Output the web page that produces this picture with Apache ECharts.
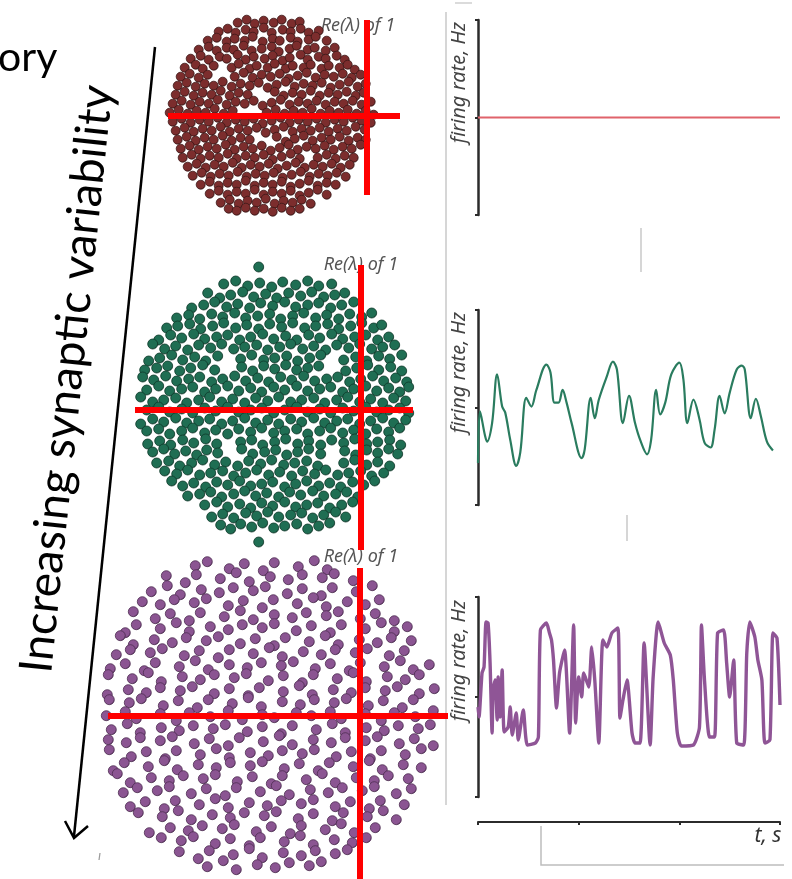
<!DOCTYPE html>
<html><head><meta charset="utf-8">
<script src="https://cdn.jsdelivr.net/npm/echarts@6/dist/echarts.min.js"></script>
<style>html,body{margin:0;padding:0;background:#fff}#c{width:792px;height:879px}</style>
</head><body><div id="c"></div>
<script>
// Eigenvalue clouds: flat pairs [Re*100, Im*100, ...] (red cross marks Re = 1, Im = 0)
const eigLow = [
-29,93,-20,96,-12,92,-3,95,7,93,15,96,25,92,33,94,
-48,84,-39,87,-31,83,-21,86,-13,84,-3,88,5,83,16,86,24,84,34,87,42,83,52,85,
-59,75,-50,78,-40,74,-32,77,-22,75,-14,79,-4,74,6,77,13,75,24,78,31,74,42,76,49,79,60,75,
-68,66,-58,69,-50,65,-40,68,-33,66,-23,70,-15,65,-5,67,5,69,12,64,23,67,30,70,41,66,48,68,59,65,68,68,
-76,57,-66,60,-58,56,-47,59,-40,57,-29,61,-21,56,-13,59,-2,57,6,60,16,55,23,58,34,61,41,56,52,59,59,57,70,60,78,56,
-82,48,-71,51,-64,47,-53,50,-35,48,-28,52,-17,47,-10,50,1,48,8,52,19,47,26,50,37,48,44,51,55,47,62,50,73,48,81,51,88,46,
-86,39,-77,42,-68,38,-59,41,-32,39,-23,43,-14,38,-5,41,4,39,13,42,22,37,31,40,40,43,49,38,58,41,67,39,76,42,85,38,94,41,
-89,30,-80,33,-71,29,-62,32,-53,30,-44,34,-35,29,-26,32,-17,30,-8,33,1,28,10,31,19,34,28,29,37,32,46,30,55,33,64,28,73,31,82,34,91,29,99,32,
-91,21,-82,24,-73,20,-64,23,-55,21,-46,25,-37,20,-28,23,-19,21,8,24,17,20,26,23,35,21,44,25,53,20,62,23,71,21,80,24,89,20,97,23,
-94,12,-85,15,-76,11,-67,14,-58,12,-49,16,-40,11,-31,14,-22,12,-13,15,-4,10,5,13,14,16,23,11,32,14,41,12,50,15,59,11,68,14,77,12,86,15,95,11,104,14,
-97,3,-88,6,-79,2,-70,5,-61,3,-52,7,-43,2,-34,5,0,3,9,6,18,2,27,5,36,3,45,7,54,2,63,5,72,3,81,6,90,2,99,5,107,1,
-94,-6,-85,-3,-76,-7,-67,-4,-58,-6,-49,-2,-40,-7,-31,-4,-22,-6,-13,-3,-4,-8,5,-5,14,-2,23,-7,32,-4,41,-6,50,-3,59,-7,68,-4,77,-6,86,-2,95,-5,104,-7,
-91,-15,-82,-12,-73,-16,-64,-13,-55,-15,-46,-11,-37,-16,-28,-13,-19,-15,-10,-12,-1,-17,8,-14,17,-11,26,-16,35,-13,44,-15,53,-12,62,-16,71,-13,80,-15,89,-11,98,-14,
-89,-24,-80,-21,-71,-25,-62,-22,-53,-24,-44,-20,-35,-25,-26,-22,-17,-24,10,-21,19,-26,28,-23,37,-20,46,-25,55,-22,64,-24,73,-21,82,-25,91,-22,99,-24,
-86,-33,-77,-30,-68,-34,-59,-31,-50,-33,-41,-29,-32,-34,-23,-31,-14,-33,-5,-30,4,-35,13,-32,22,-29,31,-34,40,-31,49,-33,58,-30,67,-34,76,-31,85,-33,94,-29,
-84,-42,-75,-39,-66,-43,-57,-40,-48,-42,-39,-38,-30,-43,-21,-40,-12,-42,-3,-39,6,-44,15,-41,24,-38,33,-43,51,-42,60,-39,69,-43,78,-40,87,-42,
-79,-51,-70,-48,-61,-52,-52,-49,-43,-51,-34,-47,-25,-52,-16,-49,-7,-51,2,-48,11,-53,20,-50,29,-47,38,-52,47,-49,56,-51,65,-48,74,-52,83,-49,
-74,-60,-65,-57,-56,-61,-47,-58,-38,-60,-29,-56,-20,-61,-11,-58,-2,-60,7,-57,16,-62,25,-59,34,-56,43,-61,52,-58,61,-60,70,-57,79,-61,
-66,-69,-57,-66,-48,-70,-39,-67,-30,-69,-21,-65,-12,-70,-3,-67,6,-69,15,-66,24,-71,33,-68,42,-65,51,-70,60,-67,69,-69,
-57,-78,-48,-75,-39,-79,-30,-76,-21,-78,-12,-74,-3,-79,6,-76,15,-78,24,-75,33,-80,42,-77,51,-74,60,-79,
-46,-87,-37,-84,-28,-88,-19,-85,-10,-87,-1,-83,8,-88,17,-85,26,-87,35,-84,44,-88,
-38,-93,-30,-95,-21,-92,-12,-95,-3,-93,6,-96,15,-92,24,-95,33,-93
];
const eigMid = [
-2,143,
-37,126,-25,129,-13,124,-1,127,11,123,22,128,35,125,47,129,58,124,71,126,
-53,117,-41,112,-30,115,-18,118,-7,113,5,116,16,112,28,117,40,114,51,118,63,113,74,115,84,117,
-69,102,-57,105,-46,108,-34,103,-23,106,-11,102,0,107,12,104,24,108,35,103,47,105,58,107,70,102,81,105,93,108,
-84,92,-72,95,-61,91,-49,96,-38,93,-26,97,-15,92,-3,94,9,96,20,91,32,94,43,97,55,92,66,95,78,91,89,96,101,93,111,97,
-94,82,-83,84,-71,86,-60,81,-48,84,-37,87,-25,82,-14,85,-2,81,9,86,21,83,32,87,44,82,55,84,67,86,78,81,90,84,101,87,113,82,121,85,
-102,70,-90,75,-79,72,-67,76,-56,71,-44,73,-33,75,-21,70,-10,73,2,76,13,71,25,74,36,70,48,75,59,72,71,76,82,71,94,73,105,75,117,70,128,73,
-108,66,-96,61,-85,64,-73,60,-62,65,-50,62,-39,66,-27,61,-16,63,-4,65,7,60,19,63,30,66,42,61,53,64,65,60,76,65,88,62,99,66,111,61,122,63,134,65,
-112,49,-101,52,-89,55,-78,50,-66,53,-55,49,-43,54,-20,51,-9,55,3,50,14,52,26,54,37,49,49,52,60,55,83,50,95,53,106,49,118,54,129,51,141,55,
-116,40,-104,42,-93,44,-81,39,-70,42,-58,45,-46,40,-19,43,-8,39,3,44,14,41,25,45,36,40,47,42,58,44,85,39,96,42,107,45,118,40,130,43,141,39,
-118,33,-107,30,-95,34,-84,29,-72,31,-61,33,-49,28,-38,31,-26,34,-15,29,-3,32,8,28,20,33,31,30,43,34,54,29,66,31,77,33,89,28,100,31,112,34,123,29,135,32,146,28,
-114,20,-102,24,-91,19,-79,21,-68,23,-56,18,-45,21,-33,24,-22,19,-10,22,1,18,13,23,24,20,36,24,47,19,59,21,70,23,82,18,93,21,105,24,116,19,128,22,139,18,148,23,
-120,13,-108,8,-97,10,-85,12,-74,7,-62,10,-51,13,-39,8,-28,11,-16,7,-5,12,7,9,18,13,30,8,41,10,53,12,64,7,76,10,87,13,99,8,110,11,122,7,133,12,145,9,
-114,0,-102,3,-91,-2,-79,1,-68,-3,-56,2,-45,-1,-33,3,-22,-2,-10,0,1,2,13,-3,24,0,36,3,47,-2,59,1,70,-3,82,2,93,-1,105,3,116,-2,128,0,139,2,148,-3,
-120,-14,-108,-9,-97,-12,-85,-8,-74,-13,-62,-11,-51,-9,-39,-14,-28,-11,-16,-8,-5,-13,7,-10,18,-14,30,-9,41,-12,53,-8,64,-13,76,-11,87,-9,99,-14,110,-11,122,-8,133,-13,145,-10,
-114,-21,-102,-19,-91,-24,-79,-21,-68,-18,-56,-23,-45,-20,-33,-24,-22,-19,-10,-22,1,-18,13,-23,24,-21,36,-19,47,-24,59,-21,70,-18,82,-23,93,-20,105,-24,116,-19,128,-22,139,-18,
-113,-34,-101,-31,-90,-35,-78,-30,-67,-33,-55,-29,-44,-34,-20,-32,-9,-30,2,-35,14,-32,25,-29,37,-34,48,-31,60,-35,71,-30,83,-33,94,-29,106,-34,117,-32,129,-30,140,-35,
-108,-42,-97,-39,-86,-44,-75,-41,-64,-45,-54,-40,-43,-43,-19,-39,-8,-44,4,-42,15,-40,26,-45,37,-42,48,-39,60,-44,84,-41,95,-45,106,-40,117,-43,128,-39,137,-44,
-104,-53,-92,-51,-81,-56,-69,-53,-58,-50,-46,-55,-35,-52,-23,-56,-12,-51,0,-54,11,-50,23,-55,34,-53,46,-51,57,-56,83,-53,94,-50,106,-55,117,-52,129,-56,
-96,-61,-84,-64,-73,-60,-61,-65,-50,-63,-38,-61,-27,-66,-15,-63,-4,-60,8,-65,19,-62,31,-66,42,-61,54,-64,65,-60,77,-65,88,-63,100,-61,111,-66,123,-63,
-89,-71,-78,-76,-67,-73,-55,-77,-44,-72,-33,-75,-21,-71,-10,-76,1,-74,12,-72,24,-77,35,-74,46,-71,58,-76,69,-73,80,-77,92,-72,103,-75,114,-71,
-73,-86,-61,-84,-50,-82,-39,-87,-27,-84,-16,-81,-5,-86,6,-83,18,-87,29,-82,40,-85,52,-81,63,-86,75,-84,86,-82,97,-87,
-56,-95,-44,-92,-33,-97,-21,-94,-10,-98,1,-93,12,-96,24,-92,35,-97,46,-95,57,-93,69,-98,81,-95,92,-92,
-49,-107,-38,-104,-27,-108,-15,-103,-4,-106,7,-102,18,-107,30,-105,41,-103,52,-108,63,-105,75,-102,85,-107,
-40,-115,-30,-119,-20,-114,-9,-117,2,-113,13,-118,24,-116,36,-114,47,-119,58,-116,69,-113,
-2,-132
];
const eigHigh = [
-64,150,-52,154,-30,147,-15,152,4,145,15,153,39,149,55,155,68,146,
-93,140,-74,133,-63,141,-39,137,-23,143,-10,134,11,139,29,136,43,141,63,138,75,142,94,135,
-108,124,-92,130,-79,121,-58,126,-40,123,-26,128,-6,125,6,129,28,122,43,127,62,120,73,128,97,124,113,130,
-117,114,-99,111,-85,116,-65,113,-53,117,-31,110,-16,115,3,108,14,116,38,112,54,118,67,109,88,114,106,111,120,116,
-126,104,-104,97,-89,102,-70,95,-59,103,-35,99,-19,105,-6,96,15,101,33,98,47,103,67,100,79,104,101,97,116,102,135,95,
-134,83,-123,91,-99,87,-83,93,-70,84,-49,89,-31,86,-17,91,3,88,15,92,37,85,52,90,71,83,82,91,106,87,122,93,135,84,148,89,
-139,80,-126,71,-105,76,-87,73,-73,78,-53,75,-41,79,-19,72,-4,77,15,70,26,78,50,74,66,80,79,71,100,76,118,73,132,78,152,75,
-143,61,-129,66,-109,63,-97,67,-75,60,-60,65,-41,58,-30,66,-6,62,10,68,23,59,44,64,62,61,76,66,96,63,108,67,130,60,145,65,
-149,47,-134,52,-115,45,-104,53,-80,49,-64,55,-51,46,-30,51,-12,48,2,53,22,50,34,54,56,47,71,52,90,45,101,53,125,49,141,55,154,46,170,51,
-151,41,-127,37,-111,43,-98,34,-77,39,-59,36,-45,41,-25,38,-13,42,9,35,24,40,43,33,54,41,78,37,94,43,107,34,128,39,146,36,160,41,
-152,21,-131,26,-113,23,-99,28,-79,25,-67,29,-45,22,-30,27,-11,20,0,28,24,24,40,30,53,21,74,26,92,23,106,28,126,25,138,29,160,22,175,27,
-150,16,-130,13,-118,17,-96,10,-81,15,-62,8,-51,16,-27,12,-11,18,2,9,23,14,41,11,55,16,75,13,87,17,109,10,124,15,143,8,154,16,
-153,0,-134,4,-123,-3,-99,2,-83,-5,-70,3,-49,-1,-31,5,-17,-4,3,1,15,-2,37,3,52,0,71,4,82,-3,106,2,122,-5,135,3,156,-1,174,5,
-148,-14,-132,-8,-119,-17,-98,-12,-80,-15,-66,-10,-46,-13,-34,-9,-12,-16,3,-11,22,-18,33,-10,57,-14,73,-8,86,-17,107,-12,125,-15,139,-10,159,-13,171,-9,
-151,-24,-133,-27,-119,-22,-99,-25,-87,-21,-65,-28,-50,-23,-31,-30,-20,-22,4,-26,20,-20,33,-29,54,-24,72,-27,86,-22,106,-25,118,-21,140,-28,155,-23,174,-30,
-150,-34,-128,-41,-113,-36,-94,-43,-83,-35,-59,-39,-43,-33,-30,-42,-9,-37,9,-40,23,-35,43,-38,55,-34,77,-41,92,-36,111,-43,122,-35,146,-39,162,-33,
-146,-55,-135,-47,-111,-51,-95,-45,-82,-54,-61,-49,-43,-52,-29,-47,-9,-50,3,-46,25,-53,40,-48,59,-55,70,-47,94,-51,110,-45,123,-54,144,-49,162,-52,
-142,-58,-129,-67,-108,-62,-90,-65,-76,-60,-56,-63,-44,-59,-22,-66,-7,-61,12,-68,23,-60,47,-64,63,-58,76,-67,97,-62,115,-65,129,-60,149,-63,
-136,-77,-122,-72,-102,-75,-90,-71,-68,-78,-53,-73,-34,-80,-23,-72,1,-76,17,-70,30,-79,51,-74,69,-77,83,-72,103,-75,115,-71,137,-78,152,-73,
-129,-91,-114,-86,-95,-93,-84,-85,-60,-89,-44,-83,-31,-92,-10,-87,8,-90,22,-85,42,-88,54,-84,76,-91,91,-86,110,-93,121,-85,145,-89,
-121,-97,-97,-101,-81,-95,-68,-104,-47,-99,-29,-102,-15,-97,5,-100,17,-96,39,-103,54,-98,73,-105,84,-97,108,-101,124,-95,137,-104,
-110,-117,-89,-112,-71,-115,-57,-110,-37,-113,-25,-109,-3,-116,12,-111,31,-118,42,-110,66,-114,82,-108,95,-117,116,-112,
-98,-122,-78,-125,-66,-121,-44,-128,-29,-123,-10,-130,1,-122,25,-126,41,-120,54,-129,75,-124,93,-127,107,-122,
-80,-136,-61,-143,-50,-135,-26,-139,-10,-133,3,-142,24,-137,42,-140,56,-135,76,-138,88,-134,
-52,-151,-36,-145,-23,-154,-2,-149,16,-152,30,-147,50,-150,62,-146
];
// Firing-rate traces (time in s, rate in arbitrary units; 1 = mid tick)
const tRed = [0, 3];
const vRed = [1, 1];
const tGreen = [0.00,0.02,0.07,0.09,0.14,0.19,0.24,0.27,0.32,0.38,0.42,0.48,0.53,0.58,0.68,0.72,0.76,0.80,0.84,0.88,0.93,1.03,1.06,1.12,1.16,1.20,1.28,1.34,1.38,1.44,1.50,1.56,1.61,1.68,1.72,1.77,1.81,1.86,1.92,2.00,2.04,2.08,2.14,2.20,2.25,2.31,2.35,2.40,2.45,2.50,2.57,2.62,2.65,2.71,2.76,2.81,2.87,2.93];
const vGreen = [0.43,0.96,0.71,0.65,0.84,1.34,1.01,0.95,0.67,0.40,0.54,1.10,1.01,1.18,1.44,1.36,1.05,1.05,1.18,1.05,0.84,0.48,0.57,1.10,0.89,1.08,1.32,1.47,1.39,0.84,1.12,0.84,0.67,0.52,0.67,1.18,0.93,1.05,1.34,1.46,1.29,0.84,1.08,0.88,0.64,0.59,0.77,1.12,0.94,1.15,1.39,1.43,1.39,0.89,1.09,0.91,0.65,0.56];
const tPurple = [0.00,0.01,0.04,0.06,0.08,0.10,0.12,0.14,0.15,0.17,0.19,0.20,0.22,0.24,0.26,0.30,0.32,0.34,0.38,0.40,0.45,0.49,0.57,0.60,0.62,0.68,0.71,0.73,0.75,0.78,0.81,0.86,0.91,0.95,0.97,1.00,1.03,1.05,1.10,1.13,1.16,1.20,1.24,1.28,1.33,1.39,1.41,1.44,1.48,1.53,1.56,1.61,1.65,1.71,1.74,1.79,1.85,1.91,1.94,1.98,2.02,2.14,2.20,2.22,2.25,2.30,2.35,2.38,2.44,2.47,2.50,2.54,2.57,2.64,2.67,2.70,2.75,2.78,2.82,2.85,2.90,2.93,2.97,3.00];
const vPurple = [0.90,0.80,1.24,1.30,1.75,1.74,1.34,0.64,1.07,1.17,0.77,1.20,0.80,1.27,0.65,0.70,0.90,0.62,0.84,0.57,0.87,0.52,0.54,0.60,1.67,1.74,1.64,1.57,1.37,0.89,1.24,1.47,0.64,1.72,0.74,1.20,1.00,1.24,1.10,1.50,1.17,0.54,1.57,1.50,1.64,1.69,0.79,0.97,1.17,0.64,0.54,0.54,1.54,0.52,1.20,1.75,1.54,1.42,1.17,0.64,0.51,0.52,0.70,1.72,1.17,0.60,0.60,1.64,1.67,1.34,1.00,1.37,0.54,0.52,1.44,1.75,1.60,1.37,1.17,0.54,0.57,1.64,1.59,0.92];
const labels = {
  side: 'Increasing synaptic variability',
  cut: 'ory',
  rate: 'firing rate, Hz',
  eig: 'Re(\u03bb) of 1',
  time: 't, s'
};

function pairs(flat){ const o=[]; for(let i=0;i+1<flat.length;i+=2) o.push([flat[i]/100, flat[i+1]/100]); return o; }
function zip(a,b){ return a.map((v,i)=>[v,b[i]]); }

const chart = echarts.init(document.getElementById('c'), null, {renderer:'canvas'});

const clouds = [
  {grid:{left:168,top:20,width:232,height:175}, x:[-0.987,1.333], y:[-0.793,0.957], data:eigLow, size:9, color:'#7c2d2d', border:'#3b1616'},
  {grid:{left:135,top:265,width:278,height:285}, x:[-1.257,1.523], y:[-1.40,1.45], data:eigMid, size:10, color:'#1f6e53', border:'#0e382a'},
  {grid:{left:108,top:568,width:340,height:311}, x:[-1.513,1.887], y:[-1.633,1.477], data:eigHigh, size:10, color:'#8b5592', border:'#4c2c50'}
];
const traces = [
  {grid:{left:478,top:20,width:302,height:195}, t:tRed, v:vRed, color:'#e0636b', width:2, smooth:false},
  {grid:{left:478,top:310,width:302,height:195}, t:tGreen, v:vGreen, color:'#2a7c5f', width:2.2, smooth:0.35},
  {grid:{left:478,top:597,width:302,height:200}, t:tPurple, v:vPurple, color:'#8f5596', width:3.4, smooth:0.2}
];

const grid=[], xAxis=[], yAxis=[], series=[];
clouds.forEach((c,i)=>{
  grid.push(c.grid);
  xAxis.push({gridIndex:i,type:'value',min:c.x[0],max:c.x[1],show:false});
  yAxis.push({gridIndex:i,type:'value',min:c.y[0],max:c.y[1],show:false});
  series.push({type:'scatter',xAxisIndex:i,yAxisIndex:i,data:pairs(c.data),symbolSize:c.size,clip:false,z:2,
    itemStyle:{color:{type:'radial',x:0.4,y:0.38,r:0.65,colorStops:[{offset:0,color:c.color},{offset:0.75,color:c.color},{offset:1,color:c.border}]},borderColor:c.border,borderWidth:0.8,opacity:1},
    emphasis:{disabled:true}, silent:true});
  series.push({type:'line',xAxisIndex:i,yAxisIndex:i,data:[],z:6,silent:true,
    markLine:{silent:true,symbol:['none','none'],label:{show:false},animation:false,
      lineStyle:{color:'#ff0000',width:6,type:'solid',opacity:1},
      emphasis:{disabled:true},
      data:[{xAxis:1},{yAxis:0}]}});
});
traces.forEach((tr,k)=>{
  const i = k+3;
  grid.push(tr.grid);
  xAxis.push({gridIndex:i,type:'value',min:0,max:3,interval:1,show:false});
  yAxis.push({gridIndex:i,type:'value',min:0,max:2,interval:1,
    axisLine:{show:true,lineStyle:{color:'#2b2b2b',width:2.5}},
    axisTick:{show:true,length:3,lineStyle:{color:'#2b2b2b',width:2}},
    axisLabel:{show:false},splitLine:{show:false}});
  series.push({type:'line',xAxisIndex:i,yAxisIndex:i,data:zip(tr.t,tr.v),showSymbol:false,smooth:tr.smooth,
    lineStyle:{color:tr.color,width:tr.width},silent:true,z:3});
});
// shared time axis below the traces
grid.push({left:478,top:800,width:302,height:22});
xAxis.push({gridIndex:6,type:'value',min:0,max:3,interval:1,position:'bottom',
  axisLine:{show:true,lineStyle:{color:'#2b2b2b',width:2}},
  axisTick:{show:true,length:3,lineStyle:{color:'#2b2b2b',width:2}},
  axisLabel:{show:false},splitLine:{show:false}});
yAxis.push({gridIndex:6,type:'value',min:0,max:1,show:false});
series.push({type:'line',xAxisIndex:6,yAxisIndex:6,data:[],silent:true});

const italic = (s)=>'italic '+s+'px "Noto Sans", "DejaVu Sans", sans-serif';
const graphic = [
  {type:'line',shape:{x1:446,y1:12,x2:446,y2:805},style:{stroke:'#c8c8c8',lineWidth:1.5},silent:true},
  {type:'line',shape:{x1:455,y1:3,x2:472,y2:3},style:{stroke:'#cfcfcf',lineWidth:1.5},silent:true},
  {type:'line',shape:{x1:641,y1:228,x2:641,y2:272},style:{stroke:'#c8c8c8',lineWidth:1.5},silent:true},
  {type:'line',shape:{x1:627,y1:515,x2:627,y2:541},style:{stroke:'#c8c8c8',lineWidth:1.5},silent:true},
  {type:'polyline',shape:{points:[[541,826],[541,865],[784,865]]},style:{stroke:'#bdbdbd',lineWidth:1.5,fill:null},silent:true},
  {type:'line',shape:{x1:100,y1:853,x2:99,y2:860},style:{stroke:'#999',lineWidth:1.2},silent:true},
  {type:'line',shape:{x1:155,y1:47,x2:74,y2:836},style:{stroke:'#000',lineWidth:2.5},silent:true},
  {type:'polyline',shape:{points:[[65,821],[74,838],[88,826]]},style:{stroke:'#000',lineWidth:2.5,fill:null},silent:true},
  {type:'text',x:-2,y:58,style:{text:labels.cut,font:'41px Lato, "Open Sans", sans-serif',fill:'#000',textAlign:'left',align:'left',textVerticalAlign:'middle',verticalAlign:'middle'},silent:true},
  {type:'text',x:67,y:379,rotation:84*Math.PI/180,style:{text:labels.side,font:'46px Lato, "Open Sans", sans-serif',fill:'#000',textAlign:'center',align:'center',textVerticalAlign:'middle',verticalAlign:'middle'},silent:true},
  {type:'text',x:768,y:836,style:{text:labels.time,font:italic(21),fill:'#333',textAlign:'center',align:'center',textVerticalAlign:'middle',verticalAlign:'middle'},silent:true}
];
[22,312,600].forEach(y=>graphic.push({type:'text',x:459,y:y,rotation:Math.PI/2,z:1,
  style:{text:labels.rate,font:italic(20),fill:'#444',textAlign:'right',align:'right',textVerticalAlign:'middle',verticalAlign:'middle'},silent:true}));
[[358,26],[361,265],[361,557]].forEach(p=>graphic.push({type:'text',x:p[0],y:p[1],z:1,
  style:{text:labels.eig,font:italic(18),fill:'#555',textAlign:'center',align:'center',textVerticalAlign:'middle',verticalAlign:'middle'},silent:true}));

chart.setOption({animation:false,backgroundColor:'#fff',grid,xAxis,yAxis,series,graphic});
</script>
</body></html>
